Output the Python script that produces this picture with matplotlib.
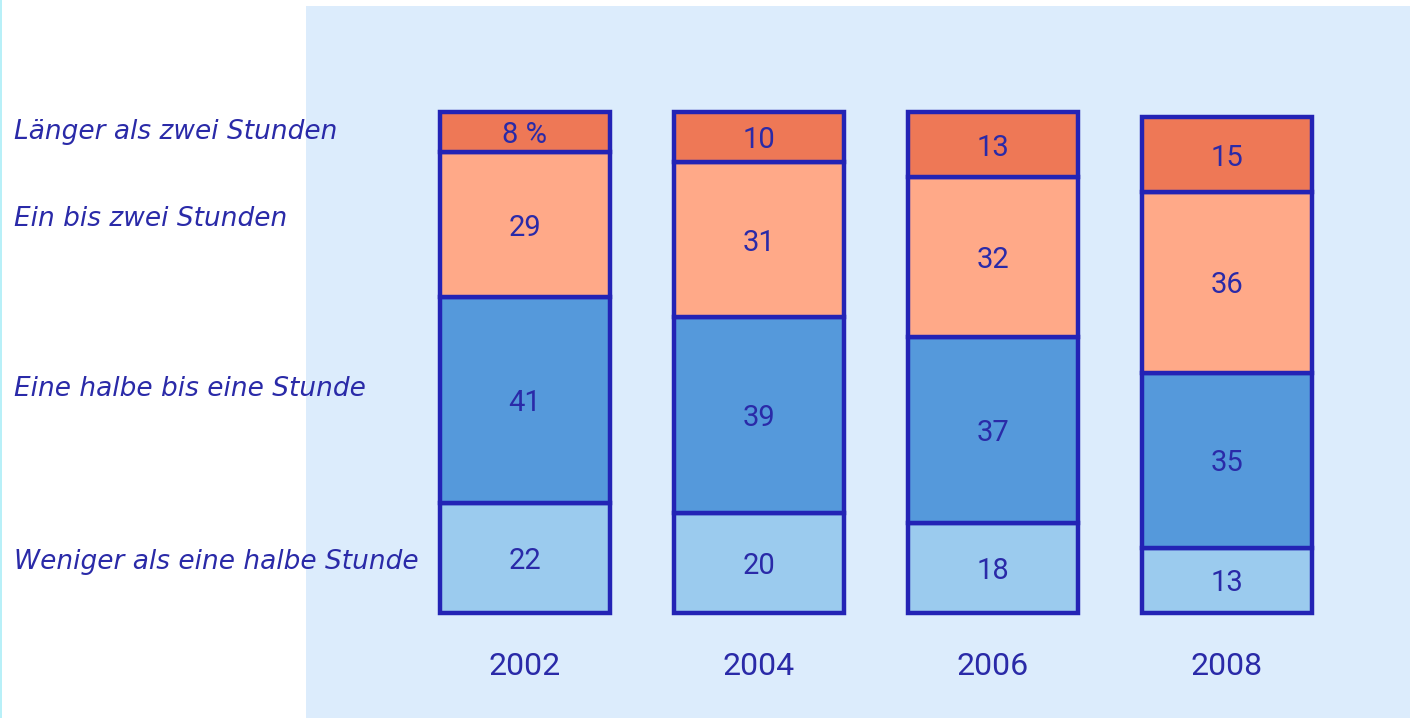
import matplotlib
matplotlib.use("Agg")
import matplotlib.pyplot as plt
from matplotlib.patches import Rectangle

years = ["2002", "2004", "2006", "2008"]
categories = ["Weniger als eine halbe Stunde", "Eine halbe bis eine Stunde",
              "Ein bis zwei Stunden", "Länger als zwei Stunden"]
weniger = [22, 20, 18, 13]
halbe_bis_eine = [41, 39, 37, 35]
ein_bis_zwei = [29, 31, 32, 36]
laenger = [8, 10, 13, 15]
series = [weniger, halbe_bis_eine, ein_bis_zwei, laenger]
colors = ["#9BCBEE", "#5599DB", "#FFA988", "#EE7856"]
label_y_px = [562, 389, 219, 132]

W, H = 1410, 718
fig = plt.figure(figsize=(W / 100, H / 100), dpi=100)
fig.patch.set_facecolor("white")

# light blue panel
fig.patches.append(Rectangle((306 / W, 0), 1 - 306 / W, 1 - 6 / H,
                             transform=fig.transFigure, facecolor="#DCECFC",
                             edgecolor="none", zorder=-2))
# thin cyan line at left edge
fig.patches.append(Rectangle((0, 0), 2 / W, 1, transform=fig.transFigure,
                             facecolor="#B8F0F8", edgecolor="none", zorder=-2))

ax = fig.add_axes([0, 0, 1, 1])
ax.set_zorder(1)
ax.set_facecolor("none")
ax.patch.set_alpha(0)
spacing = 234.0
ax.set_xlim(-525 / spacing, (W - 525) / spacing)
scale = 5.01
ax.set_ylim(-105 / scale, (H - 105) / scale)
ax.axis("off")

txt = "#2A2AA8"
edge = "#2323B5"
x = list(range(len(years)))
bottoms = [0] * len(years)
for si, (vals, c) in enumerate(zip(series, colors)):
    ax.bar(x, vals, bottom=bottoms, width=0.725, color=c, edgecolor=edge,
           linewidth=3.2, zorder=2)
    for i, v in enumerate(vals):
        lab = f"{v} %" if (si == 3 and i == 0) else str(v)
        ax.text(i, bottoms[i] + v / 2 - 0.6, lab, ha="center", va="center",
                color=txt, fontsize=21, family="Roboto", zorder=3)
    bottoms = [b + v for b, v in zip(bottoms, vals)]

for i, y in enumerate(years):
    ax.text(i, -10.6, y, ha="center", va="center", color=txt, fontsize=23,
            family="Roboto")

for cat, ypx in zip(categories, label_y_px):
    fig.text(14 / W, 1 - ypx / H, cat, ha="left", va="center", color=txt,
             fontsize=19, family="DejaVu Sans", style="italic", zorder=3)

fig.savefig("out.png", dpi=100, facecolor="white")
